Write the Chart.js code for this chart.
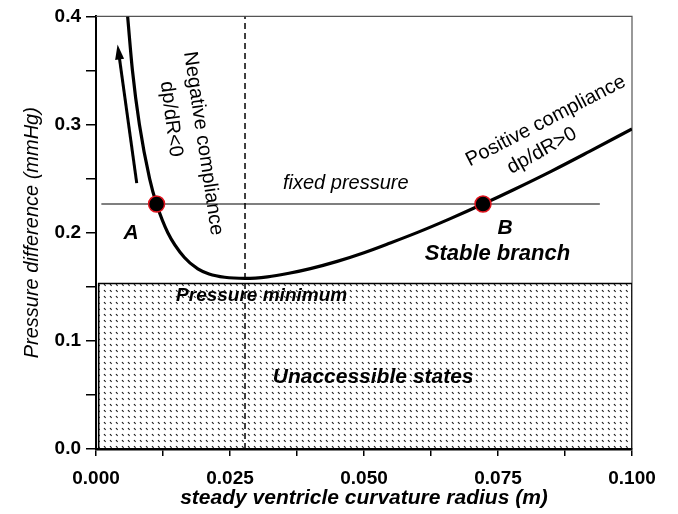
<!DOCTYPE html>
<html><head><meta charset="utf-8">
<script src="https://cdn.jsdelivr.net/npm/chart.js@4"></script>
<style>html,body{margin:0;padding:0;background:#fff}#wrap{width:678px;height:514px}</style>
</head><body><div id="wrap"><canvas id="c" width="678" height="514"></canvas></div>
<script>
// ---- data ----
const curveX = [0.0059, 0.0068, 0.0081, 0.0100, 0.0113, 0.0134, 0.0165, 0.0190, 0.0211, 0.0240, 0.0278, 0.0320, 0.0360, 0.0400, 0.0450, 0.0500, 0.0549, 0.0600, 0.0660, 0.0722, 0.0780, 0.0850, 0.0920, 0.1000];
const curveY = [0.400, 0.350, 0.300, 0.250, 0.2265, 0.200, 0.177, 0.1665, 0.1618, 0.1588, 0.1578, 0.1592, 0.1625, 0.1668, 0.1735, 0.1815, 0.1905, 0.2003, 0.2128, 0.2265, 0.2400, 0.2570, 0.2750, 0.2960];
const stateLabels = ['A', 'B'];
const stateX = [0.0113, 0.0722];
const stateY = [0.2265, 0.2265];
const fixedPressure = 0.2265;
const fixedPressureX = [0.001, 0.094];
const minimumRadius = 0.0278;
const inaccessibleTop = 0.153;
const arrowX = [0.0076, 0.0042];
const arrowY = [0.2458, 0.3675];
const xTickLabels = ['0.000', '0.025', '0.050', '0.075', '0.100'];
const yTickLabels = ['0.0', '0.1', '0.2', '0.3', '0.4'];

// annotations: [text, x, y, rotationDeg, font]
const FONT = '"Liberation Sans", Arial, sans-serif';
const notes = [
  ['Negative compliance', 0.0200, 0.2826, 81.5, 'normal 20px ' + FONT],
  ['dp/dR<0', 0.0140, 0.3050, 82.7, 'normal 20px ' + FONT],
  ['Positive compliance', 0.0839, 0.3033, -27.3, 'normal 20px ' + FONT],
  ['dp/dR>0', 0.0832, 0.2757, -29.0, 'normal 20px ' + FONT],
  ['fixed pressure', 0.0466, 0.2455, 0, 'italic 20px ' + FONT],
  [stateLabels[0], 0.00653, 0.1998, 0, 'italic bold 21px ' + FONT],
  [stateLabels[1], 0.0763, 0.2044, 0, 'italic bold 21px ' + FONT],
  ['Stable branch', 0.0749, 0.1802, 0, 'italic bold 22px ' + FONT],
  ['Pressure minimum', 0.0309, 0.1416, 0, 'italic bold 19px ' + FONT],
  ['Unaccessible states', 0.0517, 0.0662, 0, 'italic bold 21px ' + FONT]
];

// hatch pattern
const pc = document.createElement('canvas');
pc.width = 6; pc.height = 6;
const pctx = pc.getContext('2d');
pctx.strokeStyle = '#111'; pctx.lineWidth = 1.1;
pctx.beginPath(); pctx.moveTo(2, 2); pctx.lineTo(3.6, 3.8); pctx.stroke();
const hatch = document.createElement('canvas').getContext('2d').createPattern(pc, 'repeat');

const near = (v, step) => Math.abs(v / step - Math.round(v / step)) < 1e-6;

const framePlugin = {
  id: 'frame',
  beforeDatasetsDraw(chart) {
    const {ctx, chartArea: a} = chart;
    ctx.save();
    ctx.strokeStyle = '#555'; ctx.lineWidth = 1.2;
    ctx.beginPath(); ctx.moveTo(a.left, a.top); ctx.lineTo(a.right, a.top); ctx.lineTo(a.right, a.bottom); ctx.stroke();
    ctx.restore();
  }
};
const notePlugin = {
  id: 'notes',
  afterDatasetsDraw(chart) {
    const {ctx, scales: {x, y}} = chart;
    // arrow head
    const meta = chart.getDatasetMeta(2);
    const p1 = meta.data[0], p2 = meta.data[1];
    const ang = Math.atan2(p2.y - p1.y, p2.x - p1.x);
    ctx.save();
    ctx.fillStyle = '#000';
    ctx.translate(p2.x, p2.y); ctx.rotate(ang);
    ctx.beginPath(); ctx.moveTo(7, 0); ctx.lineTo(-8, -4.5); ctx.lineTo(-8, 4.5); ctx.closePath(); ctx.fill();
    ctx.restore();
    for (const [t, vx, vy, rot, font] of notes) {
      ctx.save();
      ctx.translate(x.getPixelForValue(vx), y.getPixelForValue(vy));
      ctx.rotate(rot * Math.PI / 180);
      ctx.font = font; ctx.fillStyle = '#000';
      ctx.textAlign = 'center'; ctx.textBaseline = 'middle';
      ctx.fillText(t, 0, 0);
      ctx.restore();
    }
  }
};

new Chart(document.getElementById('c'), {
  type: 'scatter',
  data: {
    datasets: [
      { data: stateX.map((v, i) => ({x: v, y: stateY[i]})), pointRadius: 8, pointBackgroundColor: '#000', pointBorderColor: '#e0141e', pointBorderWidth: 1.5, showLine: false },
      { data: curveX.map((v, i) => ({x: v, y: curveY[i]})), showLine: true, borderColor: '#000', borderWidth: 3.2, pointRadius: 0, cubicInterpolationMode: 'monotone', fill: false },
      { data: arrowX.map((v, i) => ({x: v, y: arrowY[i]})), showLine: true, borderColor: '#000', borderWidth: 3, pointRadius: 0, fill: false },
      { data: fixedPressureX.map(v => ({x: v, y: fixedPressure})), showLine: true, borderColor: '#000', borderWidth: 1.1, pointRadius: 0, fill: false },
      { data: [{x: minimumRadius, y: 0}, {x: minimumRadius, y: 0.4}], showLine: true, borderColor: '#000', borderWidth: 1.5, borderDash: [6, 4], pointRadius: 0, fill: false },
      { data: [{x: 0.0005, y: 0}, {x: 0.0005, y: inaccessibleTop}, {x: 0.1, y: inaccessibleTop}, {x: 0.1, y: 0}], showLine: true, borderColor: '#000', borderWidth: 1.6, pointRadius: 0, fill: 'origin', backgroundColor: hatch, tension: 0 }
    ]
  },
  options: {
    responsive: false, animation: false, devicePixelRatio: 1,
    layout: { padding: { top: 14, right: 46, left: 0, bottom: 0 } },
    plugins: { legend: { display: false }, tooltip: { enabled: false } },
    scales: {
      x: {
        type: 'linear', min: 0, max: 0.1,
        afterFit: s => { s.height = 65; },
        border: { color: '#000', width: 2.5 },
        grid: { drawOnChartArea: false, color: '#000', lineWidth: 1.5, tickLength: 7 },
        ticks: { stepSize: 0.0125, autoSkip: false, maxRotation: 0, padding: 11, color: '#000',
          font: { family: FONT, size: 19, weight: 'bold' },
          callback: v => near(v, 0.025) ? xTickLabels[Math.round(v / 0.025)] : '' },
        title: { display: true, text: 'steady ventricle curvature radius (m)', color: '#000',
          font: { family: FONT, size: 21, weight: 'bold', style: 'italic' }, padding: { top: 0, bottom: 3 } }
      },
      y: {
        type: 'linear', min: 0, max: 0.4,
        afterFit: s => { s.width = 96; },
        border: { color: '#000', width: 2 },
        grid: { drawOnChartArea: false, color: '#000', lineWidth: 1.5, tickLength: 10 },
        ticks: { stepSize: 0.05, autoSkip: false, padding: 5, color: '#000',
          font: { family: FONT, size: 19, weight: 'bold' },
          callback: v => near(v, 0.1) ? yTickLabels[Math.round(v / 0.1)] : '' },
        title: { display: true, text: 'Pressure difference (mmHg)', color: '#000',
          font: { family: FONT, size: 20, style: 'italic' }, padding: { top: 20, bottom: 0 } }
      }
    }
  },
  plugins: [framePlugin, notePlugin]
});
</script></body></html>
